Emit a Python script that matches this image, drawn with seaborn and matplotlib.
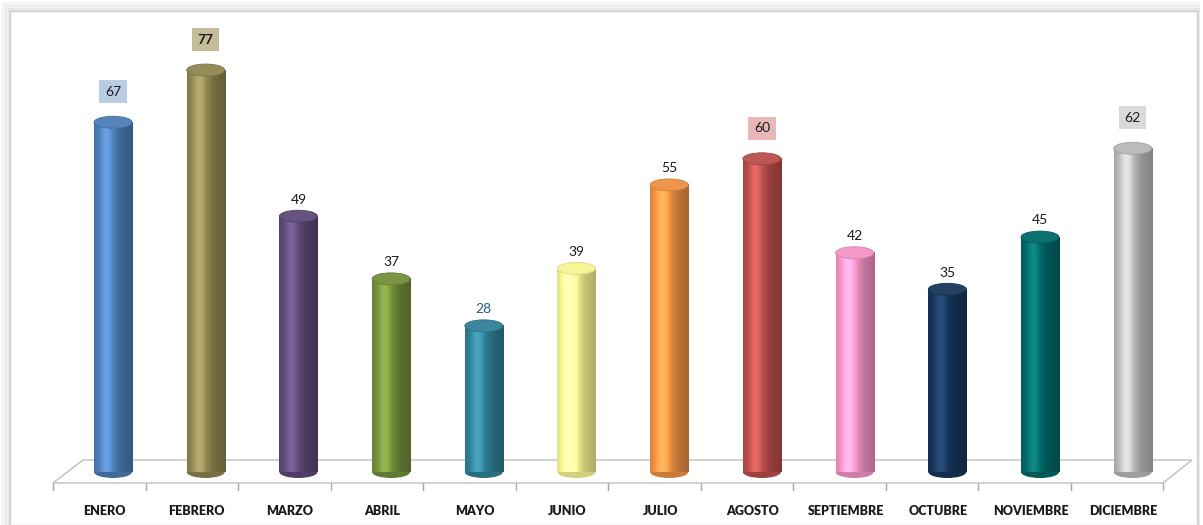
import numpy as np
import pandas as pd
import matplotlib
matplotlib.use("Agg")
import matplotlib.pyplot as plt
import seaborn as sns
from matplotlib.patches import Ellipse, Rectangle, Polygon
from matplotlib.lines import Line2D
from matplotlib.transforms import ScaledTranslation
import matplotlib.colors as mcolors

# ---- data ----
months = ["ENERO", "FEBRERO", "MARZO", "ABRIL", "MAYO", "JUNIO", "JULIO",
          "AGOSTO", "SEPTIEMBRE", "OCTUBRE", "NOVIEMBRE", "DICIEMBRE"]
values = [67, 77, 49, 37, 28, 39, 55, 60, 42, 35, 45, 62]
bar_colors = ["#4F81BD", "#948A54", "#604A7B", "#77933C", "#31859C", "#FFFF99",
              "#F79646", "#C0504D", "#FF99CC", "#17375E", "#006B6B", "#BFBFBF"]
label_box = {"ENERO": "#B9CDE5", "FEBRERO": "#C4BD97", "AGOSTO": "#E6B9B8",
             "DICIEMBRE": "#D9D9D9"}
label_color = {"MAYO": "#1F5F8B"}

df = pd.DataFrame({"mes": months, "valor": values})

sns.set_theme(style="white")
plt.rcParams["font.family"] = ["Lato", "DejaVu Sans"]

W, H = 1203, 525
fig = plt.figure(figsize=(W / 100, H / 100), dpi=100)
fig.patch.set_facecolor("white")

def fx(px):
    return px / W

def fy(py):
    return 1 - py / H

# outer frame with soft shadow
for i, c in enumerate(["#F4F4F4", "#EDEDED", "#E6E6E6"]):
    fig.patches.append(Rectangle((fx(2 + i * 3), 0), fx(1200 - (2 + i * 3)), fy(2 + i * 3),
                                 transform=fig.transFigure, facecolor=c, edgecolor="none", zorder=0))
fig.patches.append(Rectangle((fx(10), 0), fx(1197) - fx(10), fy(11),
                             transform=fig.transFigure, facecolor="white",
                             edgecolor="#CFCFCF", linewidth=1, zorder=0.1))

# floor
floor = [(53, 483), (83, 460), (1192, 460), (1163, 483)]
fig.patches.append(Polygon([(fx(x), fy(y)) for x, y in floor], closed=True,
                           transform=fig.transFigure, facecolor="white",
                           edgecolor="#BFBFBF", linewidth=1.0, zorder=0.2))
for k in range(13):
    x = 53 + k * (1163 - 53) / 12
    fig.lines.append(Line2D([fx(x), fx(x)], [fy(483), fy(490)], transform=fig.transFigure,
                            color="#A6A6A6", linewidth=1.0, zorder=0.2))

# axes: value 0 at y=472px, category i center at 113+92.7*i
ax_left = fx(113 - 92.7 / 2)
ax_right = fx(113 + 92.7 * 11.5)
ymax = 85
px_per_unit = 5.22
ax_bottom = fy(472)
ax_height = (ymax * px_per_unit) / H
ax = fig.add_axes([ax_left, ax_bottom, ax_right - ax_left, ax_height])
ax.set_zorder(5)
ax.set_facecolor("none")

sns.barplot(data=df, x="mes", y="valor", hue="mes", palette=bar_colors,
            width=0.41, legend=False, ax=ax, saturation=1, edgecolor="none")
for s in ax.spines.values():
    s.set_visible(False)
ax.set_yticks([])
ax.set_xlabel("")
ax.set_ylabel("")
ax.tick_params(axis="x", length=0, pad=31)
ax.set_xticks(range(12))
ax.set_xticklabels(months, fontsize=9, fontweight="heavy", color="#1A1A1A")
off = ScaledTranslation(-9 / 100, 0, fig.dpi_scale_trans)
for lab in ax.get_xticklabels():
    lab.set_transform(lab.get_transform() + off)
    lab.set_verticalalignment("baseline")

ell_h = 12 / px_per_unit
grad_x = np.linspace(0, 1, 200)
shade = 0.82 + 0.32 * np.exp(-((grad_x - 0.33) / 0.25) ** 2) - 0.14 * grad_x ** 2

for patch, col, m, v in zip(list(ax.patches), bar_colors, months, values):
    x0 = patch.get_x()
    w = patch.get_width()
    rgb = np.array(mcolors.to_rgb(col))
    # cylinder gradient
    img = np.clip(rgb[None, None, :] * shade[None, :, None] +
                  np.maximum(shade - 1, 0)[None, :, None] * 0.5, 0, 1)
    img = np.repeat(img, 2, axis=0)
    ax.imshow(img, extent=[x0, x0 + w, 0, v], aspect="auto", zorder=2,
              interpolation="bilinear")
    patch.set_alpha(0)
    # bottom ellipse
    be = Ellipse((x0 + w / 2, 0), w, ell_h, facecolor=tuple(rgb * 0.82),
                 edgecolor="none", zorder=1.9, clip_on=False)
    ax.add_patch(be)
    # top ellipse
    top = np.clip(rgb * 0.9 + 0.06, 0, 1)
    te = Ellipse((x0 + w / 2, v), w, ell_h, facecolor=tuple(top),
                 edgecolor=tuple(rgb * 0.85), linewidth=0.6, zorder=3, clip_on=False)
    ax.add_patch(te)
    # value label
    if m in label_box:
        ax.annotate(str(v), (x0 + w / 2, v), xytext=(0, 22), textcoords="offset points",
                    ha="center", va="center", fontsize=10, color="#1A1A1A",
                    fontweight="bold" if m == "FEBRERO" else "normal",
                    bbox=dict(boxstyle="square,pad=0.4", facecolor=label_box[m],
                              edgecolor="none"), zorder=4, annotation_clip=False)
    else:
        ax.annotate(str(v), (x0 + w / 2, v), xytext=(0, 12), textcoords="offset points",
                    ha="center", va="center", fontsize=10,
                    color=label_color.get(m, "#1A1A1A"), zorder=4, annotation_clip=False)

ax.set_xlim(-0.5, 11.5)
ax.set_ylim(0, ymax)

fig.savefig("out.png", dpi=100)
